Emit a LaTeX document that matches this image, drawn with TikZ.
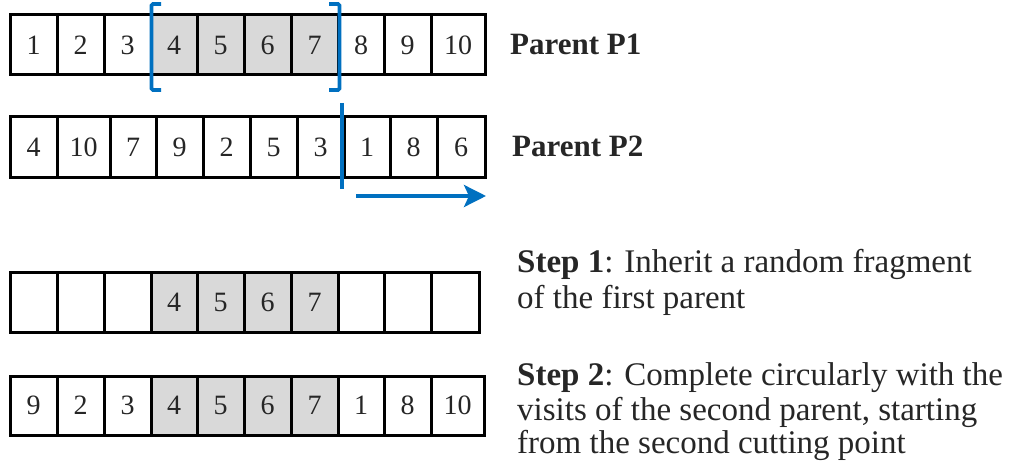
\documentclass[tikz,border=0pt]{standalone}
\usepackage{fontspec}
\setmainfont{Liberation Serif}
\usetikzlibrary{arrows.meta}
\definecolor{pblue}{HTML}{0070C0}
\definecolor{cgrey}{HTML}{D9D9D9}
\definecolor{txt}{HTML}{262626}
\tikzset{
  cellbox/.style={draw=black, line width=3pt, inner sep=0pt, outer sep=0pt, fill=white,
    text=txt, font=\fontsize{28}{32}\selectfont},
  sel/.style={fill=cgrey},
  lbl/.style={anchor=base west, inner sep=0pt, text=txt},
  bluemark/.style={draw=pblue, line width=3.8pt},
}
% name, x1, x2, ytop, ybottom, text, extra style
\newcommand\mycell[7]{%
  \node[cellbox,#7,minimum width={(#3-#2)*1pt},minimum height={(#5-#4)*1pt}]
    (#1) at ({(#2+#3)/2},{(#4+#5)/2}) {#6};}
\begin{document}
\begin{tikzpicture}[x=1pt,y=-1pt]
\useasboundingbox (0,0) rectangle (1009,465);
% Row 1: Parent P1
\mycell{a1}{10}{57}{15}{75}{1}{}
\mycell{a2}{57}{104}{15}{75}{2}{}
\mycell{a3}{104}{151}{15}{75}{3}{}
\mycell{a4}{151}{197}{15}{75}{4}{sel}
\mycell{a5}{197}{244}{15}{75}{5}{sel}
\mycell{a6}{244}{291}{15}{75}{6}{sel}
\mycell{a7}{291}{338}{15}{75}{7}{sel}
\mycell{a8}{338}{384}{15}{75}{8}{}
\mycell{a9}{384}{431}{15}{75}{9}{}
\mycell{a10}{431}{485}{15}{75}{10}{}
% Row 2: Parent P2
\mycell{b1}{10}{57}{117}{178}{4}{}
\mycell{b2}{57}{110}{117}{178}{10}{}
\mycell{b3}{110}{156}{117}{178}{7}{}
\mycell{b4}{156}{203}{117}{178}{9}{}
\mycell{b5}{203}{250}{117}{178}{2}{}
\mycell{b6}{250}{297}{117}{178}{5}{}
\mycell{b7}{297}{344}{117}{178}{3}{}
\mycell{b8}{344}{390}{117}{178}{1}{}
\mycell{b9}{390}{437}{117}{178}{8}{}
\mycell{b10}{437}{485}{117}{178}{6}{}
% Row 3: step 1
\mycell{c1}{10}{57}{272}{332}{}{}
\mycell{c2}{57}{104}{272}{332}{}{}
\mycell{c3}{104}{151}{272}{332}{}{}
\mycell{c4}{151}{197}{272}{332}{4}{sel}
\mycell{c5}{197}{244}{272}{332}{5}{sel}
\mycell{c6}{244}{291}{272}{332}{6}{sel}
\mycell{c7}{291}{338}{272}{332}{7}{sel}
\mycell{c8}{338}{384}{272}{332}{}{}
\mycell{c9}{384}{431}{272}{332}{}{}
\mycell{c10}{431}{479}{272}{332}{}{}
% Row 4: step 2
\mycell{d1}{10}{57}{376}{435}{9}{}
\mycell{d2}{57}{104}{376}{435}{2}{}
\mycell{d3}{104}{151}{376}{435}{3}{}
\mycell{d4}{151}{197}{376}{435}{4}{sel}
\mycell{d5}{197}{244}{376}{435}{5}{sel}
\mycell{d6}{244}{291}{376}{435}{6}{sel}
\mycell{d7}{291}{338}{376}{435}{7}{sel}
\mycell{d8}{338}{384}{376}{435}{1}{}
\mycell{d9}{384}{431}{376}{435}{8}{}
\mycell{d10}{431}{484}{376}{435}{10}{}
% brackets around the fragment
\draw[bluemark, rounded corners=1.5pt] (161,4) -- (151.5,4) -- (151.5,90) -- (161,90);
\draw[bluemark, rounded corners=1.5pt] (329,4) -- (339.5,4) -- (339.5,90) -- (329,90);
% cutting point and direction
\coordinate (cuttop) at (342,103);
\coordinate (cutbot) at (342,189);
\draw[bluemark] (cuttop) -- (cutbot);
\coordinate (arrS) at (356,196);
\coordinate (arrE) at (486,196);
\draw[bluemark, -{Stealth[length=22pt,width=22pt,inset=5pt]}] (arrS) -- (arrE);
% labels
\node[lbl, font=\fontsize{31}{36}\selectfont\bfseries] (p1) at (510,55) {Parent P1};
\node[lbl, font=\fontsize{31}{36}\selectfont\bfseries] (p2) at (512,157) {Parent P2};
\node[lbl, font=\fontsize{33}{38}\selectfont] (s1a) at (517,272) {\textbf{Step 1}: Inherit a random fragment};
\node[lbl, font=\fontsize{33}{38}\selectfont] (s1b) at (517,308) {of the first parent};
\node[lbl, font=\fontsize{33}{38}\selectfont] (s2a) at (517,385) {\textbf{Step 2}: Complete circularly with the};
\node[lbl, font=\fontsize{33}{38}\selectfont] (s2b) at (517,420) {visits of the second parent, starting};
\node[lbl, font=\fontsize{33}{38}\selectfont] (s2c) at (517,453) {from the second cutting point};
\end{tikzpicture}
\end{document}
